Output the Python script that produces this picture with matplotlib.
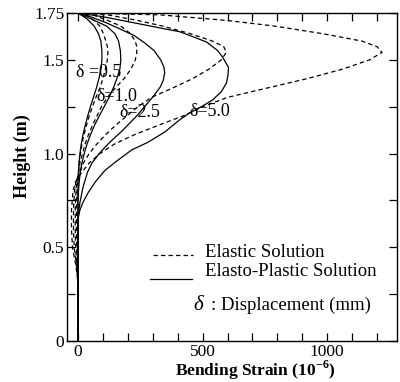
import matplotlib
matplotlib.use("Agg")
import matplotlib.pyplot as plt
from matplotlib.ticker import MultipleLocator, FixedLocator

# ---------------- data ----------------
h_el = [1.75, 1.74, 1.71, 1.68, 1.64, 1.60, 1.57, 1.54, 1.50, 1.45, 1.40, 1.35,
        1.30, 1.25, 1.20, 1.15, 1.10, 1.05, 1.00, 0.95, 0.90, 0.85, 0.80, 0.70,
        0.60, 0.50, 0.45, 0.40, 0.35, 0.30, 0.0]
el_05 = [0, 35, 65, 88, 102, 112, 118, 120, 118, 110, 100, 88,
         72, 58, 45, 34, 24, 16, 10, 5, 2, -2, -4, -6,
         -6, -5, -4, -2, -1, 0, 0]
el_10 = [0, 60, 120, 172, 210, 230, 236, 236, 230, 212, 185, 150,
         118, 94, 76, 58, 42, 28, 18, 8, 2, -5, -8, -11,
         -11, -9, -7, -4, -2, 0, 0]
el_25 = [0, 120, 240, 340, 450, 540, 585, 595, 575, 525, 460, 380,
         295, 240, 195, 150, 110, 75, 45, 22, 7, -8, -14, -18,
         -18, -15, -11, -6, -2, 0, 0]
el_50 = [0, 330, 600, 790, 980, 1140, 1200, 1220, 1170, 1060, 920, 760,
         600, 500, 420, 320, 225, 145, 88, 45, 15, -10, -20, -26,
         -26, -22, -15, -8, -3, 0, 0]

h_p05 = [1.75, 1.72, 1.68, 1.64, 1.60, 1.55, 1.50, 1.45, 1.40, 1.35, 1.30, 1.25,
         1.20, 1.15, 1.10, 1.05, 1.00, 0.95, 0.90, 0.85, 0.80, 0.0]
pl_05 = [0, 35, 65, 82, 92, 96, 96, 92, 84, 74, 62, 50,
         39, 29, 20, 13, 8, 4, 2, 1, 0, 0]

h_p10 = [1.75, 1.72, 1.68, 1.64, 1.60, 1.55, 1.50, 1.45, 1.40, 1.36, 1.30, 1.25,
         1.20, 1.15, 1.10, 1.05, 1.00, 0.95, 0.90, 0.85, 0.80, 0.75, 0.0]
pl_10 = [0, 50, 115, 148, 163, 170, 172, 168, 156, 145, 125, 105,
         85, 66, 50, 36, 25, 16, 9, 5, 2, 0, 0]

h_p25 = [1.75, 1.73, 1.70, 1.67, 1.63, 1.59, 1.55, 1.50, 1.46, 1.43, 1.39, 1.355,
         1.31, 1.27, 1.20, 1.125, 1.057, 1.00, 0.95, 0.90, 0.82, 0.74, 0.68, 0.62, 0.0]
pl_25 = [0, 50, 110, 160, 225, 268, 305, 332, 345, 348, 342, 330,
         305, 280, 235, 180, 125, 85, 56, 38, 20, 8, 2, 0, 0]

h_p50 = [1.75, 1.73, 1.70, 1.67, 1.65, 1.62, 1.595, 1.55, 1.515, 1.46, 1.42, 1.377,
         1.33, 1.286, 1.25, 1.217, 1.18, 1.115, 1.06, 1.02, 0.96, 0.91, 0.85, 0.79,
         0.74, 0.70, 0.65, 0.0]
pl_50 = [0, 100, 216, 330, 408, 468, 516, 560, 580, 604, 602, 596,
         575, 540, 495, 448, 408, 348, 280, 216, 155, 108, 70, 40,
         20, 8, 0, 0]

label_text = ["\u03b4 =0.5", "\u03b4=1.0", "\u03b4=2.5", "\u03b4=5.0"]
label_x = [-6, 74, 166, 446]
label_y = [1.435, 1.307, 1.217, 1.222]

xticks_major = [0, 500, 1000]
yticks_major = [0, 0.5, 1.0, 1.5, 1.75]
yticklabels = ["0", "0.5", "1.0", "1.5", "1.75"]

# ---------------- figure ----------------
plt.rcParams['font.family'] = ['Liberation Serif', 'DejaVu Serif']
plt.rcParams['mathtext.fontset'] = 'custom'
plt.rcParams['mathtext.rm'] = 'Liberation Serif'
fig = plt.figure(figsize=(4.0, 3.82), dpi=100)
ax = fig.add_axes([0.1675, 0.107, 0.825, 0.859])

dash = (0, (3.5, 2.5))
for v in (el_05, el_10, el_25, el_50):
    ax.plot(v, h_el, color='black', lw=0.9, linestyle=dash)
for h, v in ((h_p05, pl_05), (h_p10, pl_10), (h_p25, pl_25), (h_p50, pl_50)):
    ax.plot(v, h, color='black', lw=0.9)

for t, x, y in zip(label_text, label_x, label_y):
    ax.text(x, y, t, fontsize=13, ha='left', va='center', color='black')

ax.set_xlim(-44, 1280)
ax.set_ylim(0, 1.75)
ax.xaxis.set_major_locator(FixedLocator(xticks_major))
ax.xaxis.set_minor_locator(MultipleLocator(100))
ax.yaxis.set_major_locator(FixedLocator(yticks_major))
ax.set_yticklabels(yticklabels)
ax.yaxis.set_minor_locator(MultipleLocator(0.25))
ax.tick_params(which='both', direction='in', top=True, right=True,
               length=6, width=0.9, labelsize=12.5, pad=2)
for s in ax.spines.values():
    s.set_linewidth(1.0)

fig.text(255 / 400, 1 - 376 / 382, "Bending Strain (10$^{\\mathregular{-6}}$)",
         fontsize=12.5, fontweight='bold', ha='center', va='baseline')
fig.text(22 / 400, 1 - 156 / 382, "Height (m)", fontsize=13, fontweight='bold',
         ha='center', va='center', rotation=90)

# legend (drawn as in the original figure)
ax.plot([300, 460], [0.46, 0.46], color='black', lw=0.9, linestyle=dash)
ax.plot([288, 456], [0.33, 0.33], color='black', lw=0.9)
ax.text(508, 0.475, "Elastic Solution", fontsize=13.5, ha='left', va='center')
ax.text(508, 0.37, "Elasto-Plastic Solution", fontsize=13.5, ha='left', va='center')
ax.text(462, 0.19, "\u03b4", fontsize=15, ha='left', va='center', style='italic')
ax.text(534, 0.19, ": Displacement (mm)", fontsize=13.5, ha='left', va='center')

fig.savefig("out.png", dpi=100)
